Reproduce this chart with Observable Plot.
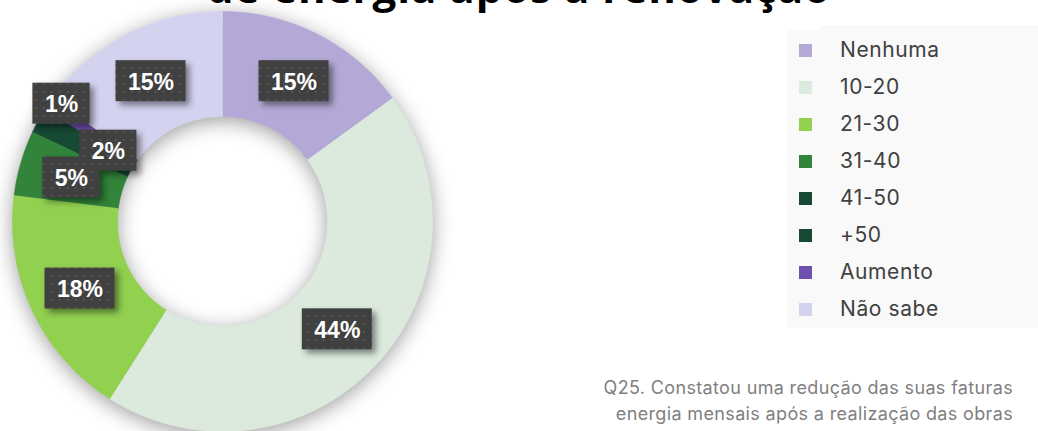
<!DOCTYPE html>
<html>
<head>
<meta charset="utf-8">
<script src="https://cdn.jsdelivr.net/npm/d3@7"></script>
<script src="https://cdn.jsdelivr.net/npm/@observablehq/plot@0.6"></script>
<style>
  html, body { margin: 0; padding: 0; background: #ffffff; }
  #wrap { position: relative; width: 1038px; height: 431px; overflow: hidden; font-family: Inter, "Open Sans", sans-serif; }
  #chart { position: absolute; left: 0; top: 0; }
  #chart svg g[aria-label="line"] { filter: drop-shadow(0px 4px 10px rgba(0,0,0,0.38)); }
  #chart svg g[aria-label="rect"] { filter: drop-shadow(4px 4px 3px rgba(0,0,0,0.45)); }
  #title { position: absolute; left: 0; width: 1038px; top: -37px; text-align: center; font-family: "Open Sans", sans-serif; font-weight: 700; font-size: 42px; letter-spacing: 1px; line-height: 48px; color: #000; white-space: nowrap; }
  #legend { position: absolute; left: 787px; top: 30px; width: 251px; height: 298px; background: #F9F9F9; }
  #legendTop { position: absolute; left: 820px; top: 25px; width: 218px; height: 6px; background: #F9F9F9; }
  .item { position: absolute; left: 0; height: 37px; }
  .sw { position: absolute; left: 12px; width: 13px; height: 13px; }
  .lab { position: absolute; left: 53px; font-size: 21px; letter-spacing: 0.6px; color: #404040; white-space: nowrap; line-height: 24px; top: -12px; }
  #caption { position: absolute; right: 25px; top: 375px; text-align: right; font-size: 18px; letter-spacing: 0.35px; line-height: 26px; color: #7F7F7F; white-space: nowrap; }
</style>
</head>
<body>
<div id="wrap">
  <div id="chart"></div>
  <div id="title"></div>
  <div id="legendTop"></div>
  <div id="legend"></div>
  <div id="caption"></div>
</div>
<script>
// ---- data ----
const categories = ["Nenhuma", "10-20", "21-30", "31-40", "41-50", "+50", "Aumento", "Não sabe"];
const shares = [15, 44, 18, 5, 2, 0, 1, 15];
const labels = ["15%", "44%", "18%", "5%", "2%", "", "1%", "15%"];
const colors = ["#B4A9D6", "#DCEADD", "#92D050", "#31843A", "#174A35", "#174A35", "#6F50B0", "#D3D3F0"];
const titleText = "de energia após a renovação";
const captionLines = ["Q25. Constatou uma redução das suas faturas", "energia mensais após a realização das obras"];

// ---- geometry derived from data ----
const total = d3.sum(shares);
const inner = 0.5;           // doughnut hole size
const k = 210;               // px per unit (matches x/y range below)
const rad = Math.PI / 180;
const nudge = { "41-50": { r: 0.64, da: 3 }, "Aumento": { r: 0.95, da: 2 } };

let acc = 0;
const ringPts = [];
const labelRows = [];
categories.forEach((cat, i) => {
  const a0 = acc / total * 360;
  acc += shares[i];
  const a1 = acc / total * 360;
  if (shares[i] <= 0) return;
  const steps = Math.max(2, Math.ceil((a1 - a0) / 0.5));
  for (let s = 0; s <= steps; s++) {
    const a = (a0 + (a1 - a0) * s / steps) * rad;
    ringPts.push({ cat, x: Math.sin(a), y: Math.cos(a) });
  }
  for (let s = steps; s >= 0; s--) {
    const a = (a0 + (a1 - a0) * s / steps) * rad;
    ringPts.push({ cat, x: inner * Math.sin(a), y: inner * Math.cos(a) });
  }
  if (labels[i]) {
    const n = nudge[cat] || { r: (1 + inner) / 2, da: 0 };
    const am = ((a0 + a1) / 2 + n.da) * rad;
    labelRows.push({ cat, text: labels[i], x: n.r * Math.sin(am), y: n.r * Math.cos(am) });
  }
});

// measure label widths for the boxes
const ctx = document.createElement("canvas").getContext("2d");
const labelFont = "bold 23px 'Liberation Sans', Arial, sans-serif";
ctx.font = labelFont;
labelRows.forEach(d => {
  const w = ctx.measureText(d.text).width + 24;
  const h = 41;
  d.x1 = d.x - w / 2 / k; d.x2 = d.x + w / 2 / k;
  d.y1 = d.y - h / 2 / k; d.y2 = d.y + h / 2 / k;
});

const plot = Plot.plot({
  width: 1038,
  height: 431,
  margin: 0,
  style: { background: "transparent", overflow: "visible" },
  x: { domain: [-1, 1], range: [12, 432], axis: null },
  y: { domain: [-1, 1], range: [431, 11], axis: null },
  color: { domain: categories, range: colors },
  marks: [
    Plot.line(ringPts, { x: "x", y: "y", z: "cat", fill: "cat", stroke: "cat", strokeWidth: 0.6, curve: "linear" }),
    Plot.rect(labelRows, { x1: "x1", x2: "x2", y1: "y1", y2: "y2", fill: "url(#dots)" }),
    Plot.text(labelRows, { x: "x", y: "y", text: "text", fill: "#FFFFFF", fontWeight: "bold", fontSize: 23, fontFamily: "'Liberation Sans', Arial, sans-serif", dy: 1 })
  ]
});

// dotted pattern for the label boxes
const ns = "http://www.w3.org/2000/svg";
const defs = document.createElementNS(ns, "defs");
defs.innerHTML = `<pattern id="dots" width="8" height="8" patternUnits="userSpaceOnUse">
  <rect width="8" height="8" fill="#404040"></rect>
  <rect x="3" y="3" width="1.6" height="1.6" fill="#5E5E5E"></rect>
</pattern>`;
plot.insertBefore(defs, plot.firstChild);
document.getElementById("chart").appendChild(plot);

// title
document.getElementById("title").textContent = titleText;

// legend
const legend = document.getElementById("legend");
categories.forEach((cat, i) => {
  const item = document.createElement("div");
  item.className = "item";
  item.style.top = (20 + i * 37) + "px";
  const sw = document.createElement("div");
  sw.className = "sw";
  sw.style.background = colors[i];
  sw.style.top = "-6.5px";
  const lab = document.createElement("div");
  lab.className = "lab";
  lab.textContent = cat;
  item.appendChild(sw);
  item.appendChild(lab);
  legend.appendChild(item);
});

// caption
document.getElementById("caption").innerHTML = captionLines.map(t => `<div>${t}</div>`).join("");
</script>
</body>
</html>
